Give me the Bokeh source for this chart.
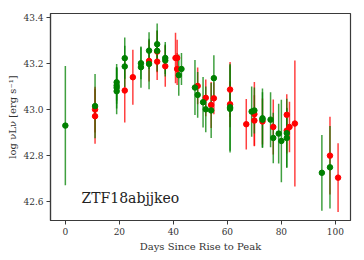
from bokeh.plotting import figure
from bokeh.models import ColumnDataSource, Label, FixedTicker, PrintfTickFormatter, Range1d
from bokeh.embed import file_html
from bokeh.resources import INLINE

# Green band
green_days = [0, 11, 19, 19, 19, 19, 22, 22, 28, 28, 31, 31, 34, 34, 37, 37, 42, 43,
              48, 49, 51, 52, 54, 55, 61, 61, 69, 70, 73, 73, 76, 77, 79, 80, 82, 82, 95, 98]
green_vals = [42.93, 43.015, 43.119, 43.105, 43.095, 43.080, 43.224, 43.188, 43.202, 43.185,
              43.257, 43.199, 43.285, 43.256, 43.225, 43.214, 43.150, 43.177,
              43.096, 43.064, 43.032, 43.001, 42.996, 43.137, 43.010, 43.003,
              42.991, 42.996, 42.962, 42.956, 42.956, 42.876, 42.895, 42.863, 42.897, 42.876,
              42.724, 42.748]
green_err = [0.26, 0.14, 0.08, 0.08, 0.09, 0.10, 0.09, 0.09, 0.07, 0.09,
             0.08, 0.11, 0.09, 0.09, 0.07, 0.07, 0.09, 0.07,
             0.12, 0.10, 0.11, 0.10, 0.12, 0.10, 0.19, 0.19,
             0.11, 0.10, 0.13, 0.12, 0.12, 0.11, 0.13, 0.18, 0.15, 0.13,
             0.165, 0.18]

# Red band
red_days = [11, 11, 22, 25, 31, 34, 34, 37, 40.8, 41.4, 41.4, 49, 52, 54, 55, 61, 61,
            67, 70, 70, 73, 77, 82, 82, 83, 85, 98, 101]
red_vals = [43.000, 42.971, 43.083, 43.141, 43.212, 43.253, 43.209, 43.189, 43.225, 43.225,
            43.177, 43.103, 43.051, 43.020, 43.049, 43.087, 43.023,
            42.936, 42.980, 42.952, 42.948, 42.924, 42.977, 42.908, 42.924, 42.939,
            42.799, 42.703]
red_err = [0.10, 0.12, 0.14, 0.12, 0.09, 0.09, 0.08, 0.09, 0.11, 0.08,
           0.07, 0.08, 0.08, 0.10, 0.07, 0.12, 0.10,
           0.11, 0.14, 0.11, 0.10, 0.12, 0.09, 0.10, 0.11, 0.275,
           0.17, 0.15]

x_ticks = [0, 20, 40, 60, 80, 100]
y_ticks = [42.6, 42.8, 43.0, 43.2, 43.4]
object_name = "ZTF18abjjkeo"

FONT = "DejaVu Serif"

def src(days, vals, errs):
    return ColumnDataSource(dict(
        x=days, y=vals,
        lo=[v - e for v, e in zip(vals, errs)],
        hi=[v + e for v, e in zip(vals, errs)]))

gs = src(green_days, green_vals, green_err)
rs = src(red_days, red_vals, red_err)

p = figure(width=364, height=260, output_backend="svg", toolbar_location=None,
           x_range=Range1d(-5.5, 105.6), y_range=Range1d(42.516, 43.419),
           min_border_left=50, min_border_right=14, min_border_top=13, min_border_bottom=40)

p.xgrid.visible = False
p.ygrid.visible = False
p.outline_line_color = "#3a3a3a"
p.outline_line_width = 1.2

for ax in (p.xaxis[0], p.yaxis[0]):
    ax.axis_line_color = "#3a3a3a"
    ax.axis_line_width = 1.2
    ax.major_tick_line_color = "#3a3a3a"
    ax.major_tick_out = 4
    ax.major_tick_in = 0
    ax.minor_tick_line_color = None
    ax.major_label_text_font = FONT
    ax.major_label_text_font_size = "9px"
    ax.major_label_text_color = "#333333"
    ax.axis_label_text_font = FONT
    ax.axis_label_text_font_size = "10px"
    ax.axis_label_text_font_style = "normal"
    ax.axis_label_text_color = "#333333"

p.xaxis.ticker = FixedTicker(ticks=x_ticks)
p.yaxis.ticker = FixedTicker(ticks=y_ticks)
p.yaxis.formatter = PrintfTickFormatter(format="%.1f")
p.xaxis.axis_label = "Days Since Rise to Peak"
p.yaxis.axis_label = "log νLν [erg s⁻¹]"
p.xaxis.major_label_standoff = 3
p.yaxis.major_label_standoff = 3
p.xaxis.axis_label_standoff = 3
p.yaxis.axis_label_standoff = 2

p.segment(x0="x", y0="lo", x1="x", y1="hi", source=rs, line_color="red", line_alpha=0.75, line_width=1.5)
p.segment(x0="x", y0="lo", x1="x", y1="hi", source=gs, line_color="green", line_alpha=0.75, line_width=1.5)
p.scatter(x="x", y="y", source=rs, size=5.5, fill_color="red", line_color="red")
p.scatter(x="x", y="y", source=gs, size=5.5, fill_color="green", line_color="green")

p.add_layout(Label(x=31, y=15, x_units="screen", y_units="screen", text=object_name,
                   text_font=FONT, text_font_size="14px", text_color="#222222"))

open("out.html", "w").write(file_html(p, INLINE))
